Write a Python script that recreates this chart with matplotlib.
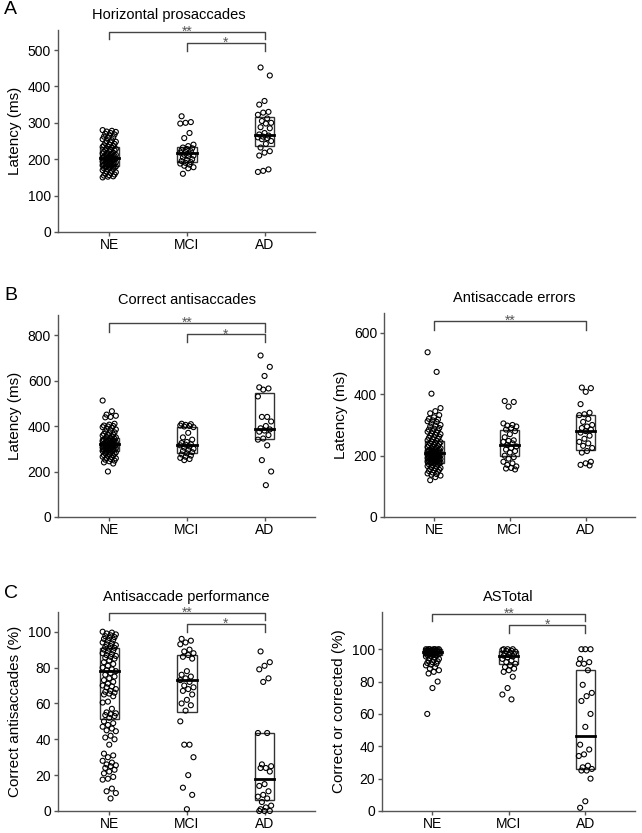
import matplotlib
matplotlib.use("Agg")
import matplotlib.pyplot as plt
import numpy as np

plt.rcParams['font.family'] = ['Liberation Sans', 'DejaVu Sans']

groups = ["NE", "MCI", "AD"]

# A: horizontal prosaccades latency (ms)
a_ne = [280, 278, 276, 275, 272, 270, 268, 265, 262, 260, 258, 255, 252, 250, 248, 246, 244, 242,
        240, 238, 236, 235, 234, 232, 230, 228, 226, 225, 224, 222, 220, 218, 217, 216, 215, 214,
        212, 211, 210, 209, 208, 207, 206, 205, 204, 204, 203, 202, 201, 200, 199, 198, 197, 196,
        195, 194, 193, 192, 191, 190, 189, 188, 187, 186, 185, 184, 183, 182, 181, 180, 179, 178,
        177, 176, 175, 174, 172, 170, 168, 166, 164, 162, 160, 158, 156, 155, 153, 152, 150]
a_mci = [318, 302, 300, 298, 272, 258, 240, 236, 232, 230, 228, 225, 222, 220, 218, 215, 212, 210,
         208, 205, 200, 198, 195, 192, 190, 188, 185, 182, 178, 175, 160]
a_ad = [452, 430, 360, 350, 330, 328, 322, 312, 305, 300, 298, 288, 285, 272, 268, 265, 262, 260,
        258, 255, 250, 242, 232, 222, 218, 210, 172, 168, 165]
a_box = [(181, 204, 234), (192, 217, 234), (236, 266, 317)]

# B left: correct antisaccades latency (ms)
b1_ne = [512, 465, 450, 445, 440, 438, 410, 406, 402, 400, 398, 395, 392, 388, 385, 380, 376, 372,
         368, 365, 362, 360, 358, 355, 352, 350, 348, 346, 344, 342, 340, 338, 336, 334, 332, 330,
         328, 327, 326, 325, 324, 322, 321, 320, 319, 318, 317, 316, 315, 314, 312, 311, 310, 308,
         307, 306, 305, 304, 302, 300, 299, 298, 296, 295, 293, 292, 290, 288, 286, 284, 282, 280,
         278, 275, 272, 270, 268, 265, 262, 260, 258, 255, 252, 248, 245, 240, 235, 200]
b1_mci = [410, 408, 405, 402, 400, 398, 395, 370, 350, 340, 330, 325, 320, 318, 315, 310, 305, 300,
          295, 290, 285, 280, 275, 270, 265, 260, 255, 250]
b1_ad = [710, 660, 620, 570, 565, 560, 530, 440, 440, 420, 400, 390, 385, 380, 375, 360, 345, 340,
         315, 250, 200, 140]
b1_box = [(291, 320, 349), (283, 317, 396), (341, 389, 543)]

# B right: antisaccade errors latency (ms)
b2_ne = [537, 473, 402, 355, 345, 338, 332, 325, 320, 318, 315, 312, 310, 305, 300, 298, 295, 290,
         288, 285, 282, 280, 278, 275, 272, 270, 268, 265, 262, 260, 258, 255, 253, 250, 248, 246,
         244, 242, 240, 238, 236, 234, 232, 230, 228, 226, 225, 224, 222, 220, 219, 218, 217, 216,
         215, 214, 213, 212, 211, 210, 209, 208, 207, 206, 205, 204, 203, 202, 201, 200, 199, 198,
         197, 196, 195, 194, 193, 192, 191, 190, 189, 188, 187, 186, 185, 184, 183, 182, 181, 180,
         179, 178, 177, 176, 175, 174, 172, 170, 168, 166, 164, 162, 160, 158, 156, 154, 152, 150,
         148, 145, 142, 140, 138, 135, 130, 120]
b2_mci = [378, 375, 360, 305, 300, 298, 295, 290, 285, 280, 270, 260, 250, 248, 245, 240, 235, 230,
          225, 220, 215, 210, 200, 195, 190, 180, 175, 170, 165, 160, 158, 155]
b2_ad = [422, 420, 408, 368, 340, 335, 332, 320, 310, 300, 295, 290, 285, 280, 275, 265, 255, 245,
         240, 232, 225, 215, 210, 180, 175, 170, 168]
b2_box = [(176, 209, 248), (198, 235, 284), (220, 281, 333)]

# C left: antisaccade performance (% correct)
c1_ne = [100, 99.5, 99, 98.5, 98, 97.5, 97, 96.5, 96, 95.5, 95, 94, 93.5, 93, 92.5, 92, 91.5, 91,
         90.5, 90, 89.5, 89, 88, 87.5, 87, 86.5, 86, 85.5, 85, 84, 83, 82, 81, 80, 79, 78.5, 78, 77,
         76, 75, 74, 73, 72, 71, 70, 69.5, 69, 68, 67, 66.5, 66, 65.5, 65, 64, 61, 60.5, 57, 55,
         54.5, 54, 53.5, 53, 52, 50, 49, 48, 47, 46, 45, 44.5, 42, 41, 40, 37, 32, 31, 30, 28, 27,
         26, 25.5, 25, 24, 23, 22, 21, 19, 18, 17.5, 12.5, 11, 10, 7]
c1_mci = [96, 95, 94, 93, 90, 89, 88, 87, 86, 85, 78, 76, 75, 74, 73, 72, 70, 69, 68, 67, 65, 62,
          60, 59, 56, 50, 37, 37, 30, 20, 13, 9, 1]
c1_ad = [89, 83, 81, 79, 74, 72, 43.5, 43.5, 26, 25, 24, 24, 22, 15, 14, 11, 9, 8, 7, 5, 3, 2, 1,
         0, 0, 0]
c1_box = [(51.4, 78.3, 90.8), (55.4, 72.8, 87.2), (5.9, 17.8, 43.5)]

# C right: ASTotal (% correct or corrected)
c2_ne = [100, 100, 100, 100, 100, 100, 99.8, 99.6, 99.5, 99.4, 99.2, 99, 99, 98.8, 98.6, 98.5,
         98.4, 98.2, 98, 98, 97.8, 97.6, 97.5, 97.4, 97.2, 97, 97, 96.8, 96.6, 96.5, 96.4, 96.2,
         96, 95.5, 95, 94.5, 94, 93.5, 93, 92.5, 92, 91.5, 91, 90.5, 90, 89, 88, 87, 86, 85, 80,
         76, 60]
c2_mci = [100, 100, 100, 99.5, 99, 99, 98.5, 98, 97.5, 97, 96.5, 96, 95.5, 95, 94, 93, 92, 91, 90,
          89, 88, 87, 86, 83, 76, 72, 69]
c2_ad = [100, 100, 100, 94, 92, 91, 91, 87, 78, 73, 71, 68, 60, 52, 41, 38, 35, 34, 28, 27, 26,
         25, 25, 20, 6, 2]
c2_box = [(96.4, 98.4, 100), (91.1, 96.0, 98.8), (25.8, 46.6, 87.3)]

W, H = 642, 833
fig = plt.figure(figsize=(W / 100, H / 100), dpi=100)


def add_ax(l, r, t, b):
    return fig.add_axes([l / W, 1 - b / H, (r - l) / W, (b - t) / H])


def jitter(n, k):
    # spread points a little sideways (deterministic)
    return np.array([(((i * 7 + k) % 11) / 10 - 0.5) * 0.17 for i in range(n)])


def panel(ax, data, boxes, ylim, yticks, ylabel, title, tx, brackets):
    for k, vals in enumerate(data):
        q1, med, q3 = boxes[k]
        ax.add_patch(plt.Rectangle((k - 0.125, q1), 0.25, q3 - q1, fill=False,
                                   edgecolor="#333333", lw=1.0, zorder=2))
        ax.plot([k - 0.125, k + 0.125], [med, med], color="black", lw=2, zorder=4)
        ax.scatter(k + jitter(len(vals), k), vals, s=13, facecolors="none",
                   edgecolors="black", linewidths=0.8, zorder=3, clip_on=False)
    ax.set_xlim(-0.66, 2.65)
    ax.set_ylim(*ylim)
    ax.set_yticks(yticks)
    ax.set_xticks(range(3))
    ax.set_xticklabels(groups)
    for s in ["top", "right"]:
        ax.spines[s].set_visible(False)
    for s in ["left", "bottom"]:
        ax.spines[s].set_color("#555555")
        ax.spines[s].set_linewidth(1.0)
    ax.tick_params(colors="#555555", labelcolor="black", labelsize=10, length=3, width=1)
    ax.tick_params(axis="x", pad=1.5)
    ax.tick_params(axis="y", pad=2)
    ax.set_ylabel(ylabel, fontsize=11, labelpad=4)
    ax.text(tx, 1.075, title, transform=ax.transAxes, ha="center", va="center", fontsize=10.5)
    for x0, x1, ytop, ydrop, mark in brackets:
        ax.plot([x0, x0, x1, x1], [ydrop, ytop, ytop, ydrop], color="#444444", lw=1,
                clip_on=False)
        ax.text((x0 + x1) / 2, ytop, mark, ha="center", va="center", fontsize=10,
                color="#555555")


axA = add_ax(58, 315, 30, 232)
panel(axA, [a_ne, a_mci, a_ad], a_box, (0, 555), range(0, 501, 100), "Latency (ms)",
      "Horizontal prosaccades", 0.43,
      [(0, 2, 550, 529, "**"), (1, 2, 520, 498, "*")])

axB1 = add_ax(58, 315, 315, 517)
panel(axB1, [b1_ne, b1_mci, b1_ad], b1_box, (0, 888), range(0, 801, 200), "Latency (ms)",
      "Correct antisaccades", 0.5,
      [(0, 2, 852, 815, "**"), (1, 2, 803, 768, "*")])

axB2 = add_ax(384, 635, 313, 517)
panel(axB2, [b2_ne, b2_mci, b2_ad], b2_box, (0, 665), range(0, 601, 200), "Latency (ms)",
      "Antisaccade errors", 0.52,
      [(0, 2, 639, 611, "**")])

axC1 = add_ax(58, 315, 612, 811)
panel(axC1, [c1_ne, c1_mci, c1_ad], c1_box, (0, 111), range(0, 101, 20),
      "Correct antisaccades (%)", "Antisaccade performance", 0.5,
      [(0, 2, 110.6, 106.4, "**"), (1, 2, 104.2, 99.6, "*")])

axC2 = add_ax(382, 635, 612, 811)
panel(axC2, [c2_ne, c2_mci, c2_ad], c2_box, (0, 123), range(0, 101, 20),
      "Correct or corrected (%)", "ASTotal", 0.5,
      [(0, 2, 122, 117.5, "**"), (1, 2, 115, 110, "*")])

for letter, y in [("A", 10), ("B", 295), ("C", 593)]:
    fig.text(4 / W, 1 - y / H, letter, fontsize=14, ha="left", va="center")

fig.savefig("out.png", dpi=100)
